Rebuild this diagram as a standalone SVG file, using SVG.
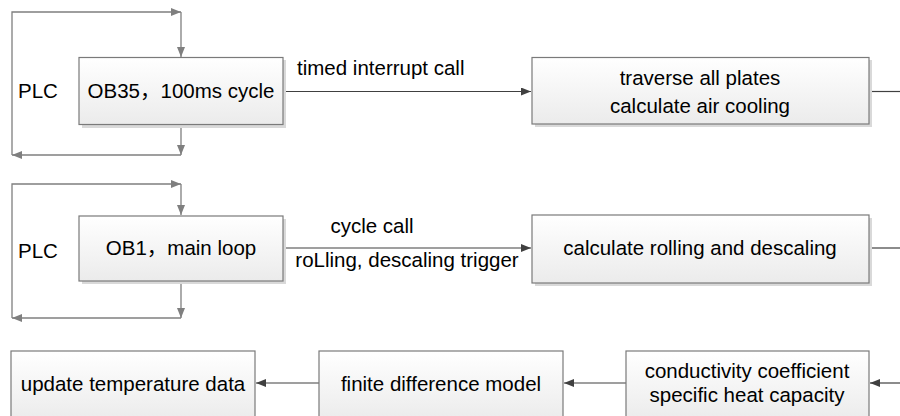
<svg xmlns="http://www.w3.org/2000/svg" width="900" height="416" viewBox="0 0 900 416">
<style>
.box{fill:url(#g);stroke:#7a7a7a;stroke-width:1.2}
.sh{fill:#d9d9d9}
.t{font-family:"Liberation Sans","Noto Sans CJK SC",sans-serif;font-size:20.5px;fill:#000}
.m{text-anchor:middle}
.loop{fill:none;stroke:#7f7f7f;stroke-width:1.3}
.c{fill:none;stroke:#404040;stroke-width:1.2}
</style>
<defs>
<linearGradient id="g" x1="0" y1="0" x2="0" y2="1">
<stop offset="0" stop-color="#ffffff"/>
<stop offset="1" stop-color="#ebebeb"/>
</linearGradient>
<marker id="ag" markerUnits="userSpaceOnUse" markerWidth="12" markerHeight="10" refX="10" refY="4" orient="auto">
<path d="M0,0 L10,4 L0,8 Z" fill="#7f7f7f"/>
</marker>
<marker id="ad" markerUnits="userSpaceOnUse" markerWidth="12" markerHeight="10" refX="10" refY="4" orient="auto">
<path d="M0,0 L10,4 L0,8 Z" fill="#404040"/>
</marker>
</defs>
<g id="connectors">
<path class="loop" d="M12,155 V12 H181" marker-end="url(#ag)"/>
<path class="loop" d="M181,12 V57" marker-end="url(#ag)"/>
<path class="loop" d="M181,125 V155" marker-end="url(#ag)"/>
<path class="loop" d="M181,155 H12" marker-end="url(#ag)"/>
<path class="c" d="M284,91.5 H531" marker-end="url(#ad)"/>
<path class="c" d="M869,91.5 H900"/>
<path class="loop" d="M12,318 V184 H181" marker-end="url(#ag)"/>
<path class="loop" d="M181,184 V215" marker-end="url(#ag)"/>
<path class="loop" d="M181,281 V318" marker-end="url(#ag)"/>
<path class="loop" d="M181,318 H12" marker-end="url(#ag)"/>
<path class="c" d="M284,248 H531" marker-end="url(#ad)"/>
<path class="c" d="M869,248 H900"/>
<path class="c" d="M900,383 H870" marker-end="url(#ad)"/>
<path class="c" d="M626,383 H564" marker-end="url(#ad)"/>
<path class="c" d="M319,383 H256" marker-end="url(#ad)"/>
<text class="t" x="297" y="75">timed interrupt call</text>
<text class="t m" x="372" y="233">cycle call</text>
<text class="t m" x="407" y="267">roLling, descaling trigger</text>
</g>
<g id="plc1"><text class="t" x="18" y="98">PLC</text></g>
<g id="plc2"><text class="t" x="18" y="258">PLC</text></g>
<g id="ob35">
<rect class="sh" x="82" y="60" width="204" height="68"/>
<rect class="box" x="79" y="57.5" width="204" height="67"/>
<text class="t m" x="181" y="98">OB35，100ms cycle</text>
</g>
<g id="traverse">
<rect class="sh" x="535" y="60" width="337" height="67"/>
<rect class="box" x="532" y="57.5" width="337" height="66.5"/>
<text class="t m" x="700" y="85">traverse all plates</text>
<text class="t m" x="700" y="113">calculate air cooling</text>
</g>
<g id="ob1">
<rect class="sh" x="82" y="219" width="204" height="65"/>
<rect class="box" x="79" y="216" width="204" height="65"/>
<text class="t m" x="181" y="255">OB1，main loop</text>
</g>
<g id="rolling">
<rect class="sh" x="535" y="218" width="337" height="68"/>
<rect class="box" x="532" y="215" width="337" height="68"/>
<text class="t m" x="700" y="255">calculate rolling and descaling</text>
</g>
<g id="update">
<rect class="box" x="11" y="351" width="244" height="70"/>
<text class="t m" x="133" y="391">update temperature data</text>
</g>
<g id="fdm">
<rect class="box" x="319" y="351" width="244" height="70"/>
<text class="t m" x="441" y="391">finite difference model</text>
</g>
<g id="cond">
<rect class="box" x="626" y="351" width="243" height="70"/>
<text class="t m" x="747" y="378">conductivity coefficient</text>
<text class="t m" x="747" y="402">specific heat capacity</text>
</g>
</svg>
